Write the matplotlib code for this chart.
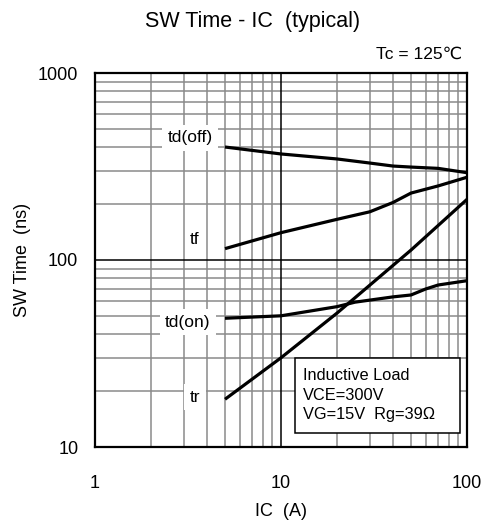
import matplotlib
matplotlib.use("Agg")
import matplotlib.pyplot as plt
from matplotlib.patches import Rectangle
from matplotlib.ticker import NullFormatter, FixedLocator

plt.rcParams['font.family'] = ['Liberation Sans', 'DejaVu Sans']

# Data (IC in A, time in ns)
ic_tdoff = [5, 10, 20, 30, 40, 50, 70, 100]
tdoff = [402, 369, 347, 330, 318, 314, 309, 293]

ic_tf = [5, 10, 20, 30, 40, 50, 70, 100]
tf = [115, 140, 165, 181, 203, 228, 249, 277]

ic_tdon = [5, 10, 20, 25, 40, 50, 60, 70, 100]
tdon = [48.8, 50.3, 56.3, 59.5, 63.5, 65, 70, 73.5, 77.5]

ic_tr = [5, 10, 20, 50, 100]
tr = [18, 30, 52, 113, 211]

labels = ["td(off)", "tf", "td(on)", "tr"]
label_pos = [(3.24, 450), (3.45, 128), (3.16, 46.6), (3.45, 18.5)]

x_ticks = [1, 10, 100]
y_ticks = [10, 100, 1000]

fig = plt.figure(figsize=(4.84, 5.22), dpi=100)
ax = fig.add_axes([95/484, 1-447/522, 372/484, 374/522])
ax.set_xscale('log')
ax.set_yscale('log')
ax.set_xlim(1, 100)
ax.set_ylim(10, 1000)

# grid
minor_x = [m * d for d in (1, 10) for m in range(2, 10)]
minor_y = [m * d for d in (10, 100) for m in range(2, 10)]
for v in minor_x:
    ax.axvline(v, color='#8a8a8a', lw=1.1, zorder=1)
for v in minor_y:
    ax.axhline(v, color='#8a8a8a', lw=1.1, zorder=1)
ax.axvline(10, color='black', lw=1.1, zorder=1)
ax.axhline(100, color='black', lw=1.1, zorder=1)

lw = 2.3
ax.plot(ic_tdoff, tdoff, color='black', lw=lw, zorder=3, solid_capstyle='butt')
ax.plot(ic_tf, tf, color='black', lw=lw, zorder=3, solid_capstyle='butt')
ax.plot(ic_tdon, tdon, color='black', lw=lw, zorder=3, solid_capstyle='butt')
ax.plot(ic_tr, tr, color='black', lw=lw, zorder=3, solid_capstyle='butt')

for t, (x, y) in zip(labels, label_pos):
    ax.text(x, y, t, ha='center', va='center', fontsize=12.5, zorder=4,
            bbox=dict(facecolor='white', edgecolor='none', pad=4))

# condition box
ax.add_patch(Rectangle((0.538, 0.037), 0.443, 0.201, transform=ax.transAxes,
                       facecolor='white', edgecolor='black', lw=1.1, zorder=5))
cond_lines = ["Inductive Load", "VCE=300V", "VG=15V  Rg=39Ω"]
for line, yy in zip(cond_lines, [0.190, 0.137, 0.086]):
    ax.text(0.559, yy, line, transform=ax.transAxes, ha='left', va='center',
            fontsize=11.8, zorder=6)

ax.xaxis.set_major_locator(FixedLocator(x_ticks))
ax.yaxis.set_major_locator(FixedLocator(y_ticks))
ax.set_xticklabels([str(v) for v in x_ticks])
ax.set_yticklabels([str(v) for v in y_ticks])
ax.xaxis.set_minor_locator(FixedLocator([]))
ax.yaxis.set_minor_locator(FixedLocator([]))
ax.xaxis.set_minor_formatter(NullFormatter())
ax.yaxis.set_minor_formatter(NullFormatter())
ax.tick_params(axis='x', length=0, labelsize=13, pad=20)
ax.tick_params(axis='y', length=0, labelsize=13, pad=12)
for s in ax.spines.values():
    s.set_linewidth(1.6)
    s.set_zorder(7)

ax.set_xlabel("IC  (A)", fontsize=13, labelpad=8)
ax.set_ylabel("SW Time  (ns)", fontsize=13, labelpad=5)

fig.text(253/484, 1-22/522, "SW Time - IC  (typical)", ha='center', va='center', fontsize=15.5)
fig.text(462/484, 1-54/522, "Tc = 125℃", ha='right', va='center', fontsize=12.5)

fig.savefig("out.png", dpi=100)
